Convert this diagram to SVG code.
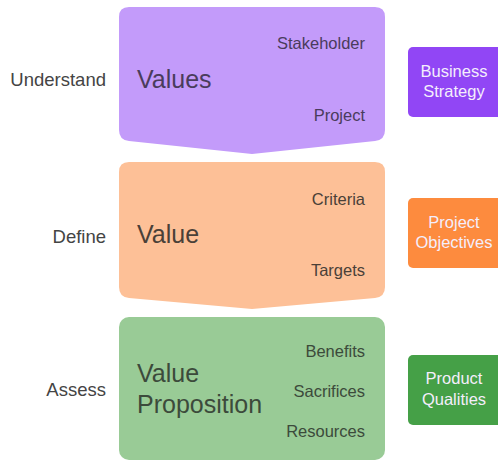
<svg xmlns="http://www.w3.org/2000/svg" width="498" height="462" viewBox="0 0 498 462">
<style>
text{font-family:"Liberation Sans",Arial,sans-serif}
.lbl{font-size:18.5px;fill:#444;text-anchor:end}
.big{font-size:25px}
.sub{font-size:16.5px;text-anchor:end}
.side{font-size:16.5px;fill:#f4eefc;text-anchor:middle}
</style>
<rect width="498" height="462" fill="#fff"/>
<g id="connectors"></g>
<g id="label-understand"><text class="lbl" x="106" y="86">Understand</text></g>
<g id="label-define"><text class="lbl" x="106" y="243">Define</text></g>
<g id="label-assess"><text class="lbl" x="106" y="396">Assess</text></g>
<g id="values">
<path d="M129,7H375Q385,7 385,17V130Q385,140 375,141L252,154L129,141Q119,140 119,130V17Q119,7 129,7Z" fill="#c39bfa"/>
<text class="big" x="137" y="88" fill="#4a3c5c">Values</text>
<text class="sub" x="365" y="49" fill="#4a3c5c">Stakeholder</text>
<text class="sub" x="365" y="121" fill="#4a3c5c">Project</text>
</g>
<g id="value">
<path d="M129,162H375Q385,162 385,172V287Q385,297 375,298L252,309L129,298Q119,297 119,287V172Q119,162 129,162Z" fill="#fdc097"/>
<text class="big" x="137" y="243" fill="#4a4038">Value</text>
<text class="sub" x="365" y="205" fill="#4a4038">Criteria</text>
<text class="sub" x="365" y="276" fill="#4a4038">Targets</text>
</g>
<g id="value-proposition">
<rect x="119" y="317" width="266" height="143" rx="10" fill="#99cb96"/>
<text class="big" x="137" y="382" fill="#3c4a3b">Value</text>
<text class="big" x="137" y="413" fill="#3c4a3b">Proposition</text>
<text class="sub" x="365" y="357" fill="#3c4a3b">Benefits</text>
<text class="sub" x="365" y="397" fill="#3c4a3b">Sacrifices</text>
<text class="sub" x="365" y="437" fill="#3c4a3b">Resources</text>
</g>
<g id="business-strategy">
<rect x="408" y="47" width="100" height="70" rx="5" fill="#9146f5"/>
<text class="side" x="454" y="77">Business</text>
<text class="side" x="454" y="97">Strategy</text>
</g>
<g id="project-objectives">
<rect x="408" y="198" width="100" height="70" rx="5" fill="#fd8b3e"/>
<text class="side" x="454" y="228" fill="#fdf0e6">Project</text>
<text class="side" x="454" y="248" fill="#fdf0e6">Objectives</text>
</g>
<g id="product-qualities">
<rect x="408" y="355" width="100" height="70" rx="5" fill="#45a047"/>
<text class="side" x="454" y="384" fill="#eef7ee">Product</text>
<text class="side" x="454" y="405" fill="#eef7ee">Qualities</text>
</g>
</svg>
